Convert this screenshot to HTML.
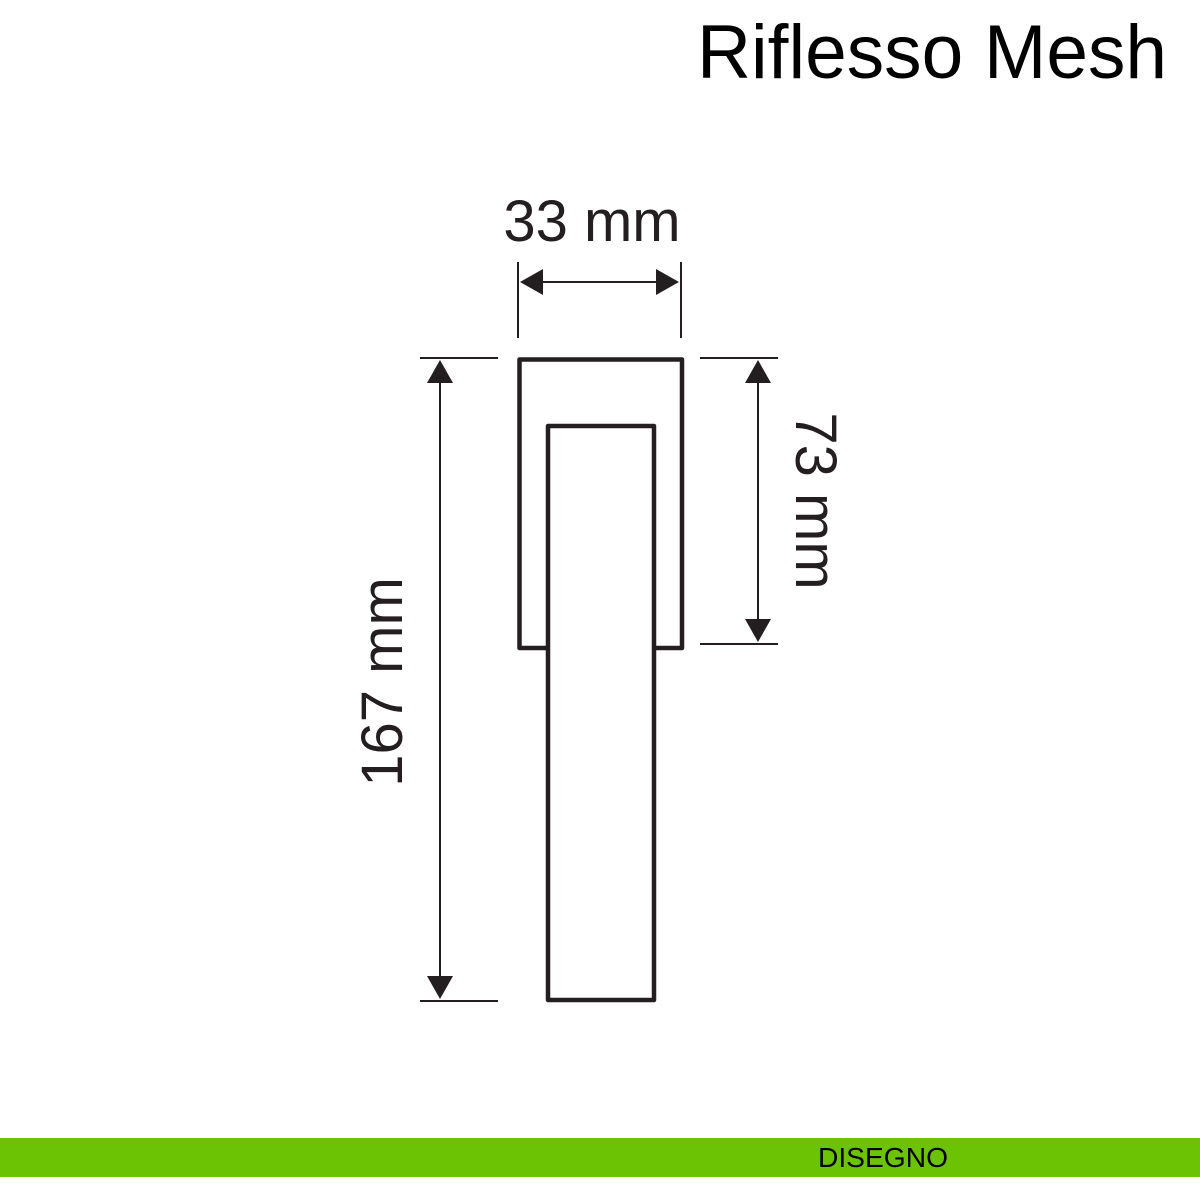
<!DOCTYPE html>
<html><head><meta charset="utf-8"><style>html,body{margin:0;padding:0;background:#fff}svg{display:block}</style></head>
<body>
<svg width="1200" height="1200" viewBox="0 0 1200 1200" xmlns="http://www.w3.org/2000/svg" font-family="Liberation Sans, sans-serif">
<rect width="1200" height="1200" fill="#fff"/>
<text x="697" y="78" font-size="76" fill="#000" textLength="470" lengthAdjust="spacingAndGlyphs">Riflesso Mesh</text>
<g stroke="#231f20" fill="none">
<path d="M548 648 H519.5 V359.5 H682 V648 H654" stroke-width="4.5" stroke-linejoin="round"/>
<path d="M548 1000 V426 H654 V1000 Z" stroke-width="4.5" stroke-linejoin="round"/>
<g stroke-width="2">
<line x1="420" y1="358" x2="498" y2="358"/>
<line x1="420" y1="1001" x2="498" y2="1001"/>
<line x1="440" y1="380" x2="440" y2="980"/>
<line x1="700" y1="358" x2="778" y2="358"/>
<line x1="700" y1="644" x2="778" y2="644"/>
<line x1="758" y1="380" x2="758" y2="622"/>
<line x1="518" y1="262" x2="518" y2="338"/>
<line x1="681" y1="262" x2="681" y2="338"/>
<line x1="540" y1="282" x2="660" y2="282"/>
</g>
</g>
<g fill="#231f20">
<polygon points="440,360 427,383 453,383"/>
<polygon points="440,999 427,976 453,976"/>
<polygon points="758,360 745,383 771,383"/>
<polygon points="758,642 745,619 771,619"/>
<polygon points="520,282 543,269 543,295"/>
<polygon points="679,282 656,269 656,295"/>
</g>
<text x="592" y="241" font-size="58" text-anchor="middle" fill="#231f20">33 mm</text>
<text transform="translate(796,501) rotate(90)" font-size="58" text-anchor="middle" fill="#231f20">73 mm</text>
<text transform="translate(402,682) rotate(-90)" font-size="58" text-anchor="middle" fill="#231f20">167 mm</text>
<rect x="0" y="1138" width="1200" height="39" fill="#6cc304"/>
<text x="818" y="1167" font-size="28" fill="#000" textLength="130" lengthAdjust="spacingAndGlyphs">DISEGNO</text>
</svg>
</body></html>
